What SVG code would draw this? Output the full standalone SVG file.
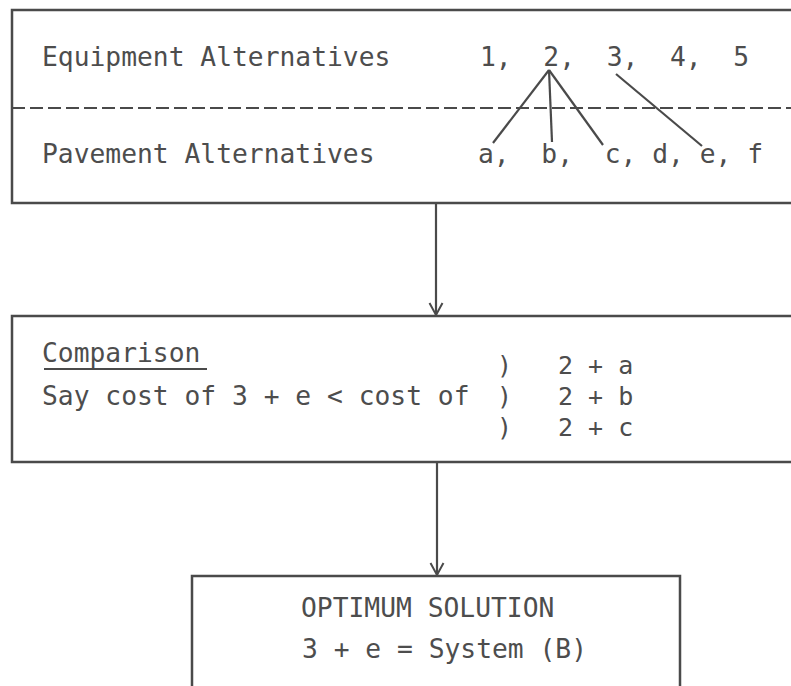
<svg xmlns="http://www.w3.org/2000/svg" width="791" height="686" viewBox="0 0 791 686">
<style>
.box{fill:none;stroke:#4a4a4a;stroke-width:2.5}
.dash{fill:none;stroke:#4a4a4a;stroke-width:2;stroke-dasharray:13 5}
.ln{fill:none;stroke:#4a4a4a;stroke-width:2.2}
.t{font-family:"DejaVu Sans Mono","Liberation Mono",monospace;font-size:26.3px;fill:#4d4d4d}
.r{font-family:"DejaVu Sans Mono","Liberation Mono",monospace;font-size:25px;fill:#4d4d4d}
</style>
<defs>
<marker id="arr" viewBox="0 0 13 14" refX="12" refY="7" markerWidth="13" markerHeight="14" markerUnits="userSpaceOnUse" orient="auto" overflow="visible">
<path d="M0,0.5 L12,7 L0,13.5" fill="none" stroke="#4a4a4a" stroke-width="2"/>
</marker>
</defs>
<rect width="791" height="686" fill="#ffffff"/>
<g id="alternatives">
<path class="box" d="M800,10 H12 V203 H800"/>
<line class="dash" x1="12" y1="108" x2="791" y2="108"/>
<text class="t" x="42" y="66">Equipment Alternatives</text>
<text class="t" x="480" y="66" xml:space="preserve">1,  2,  3,  4,  5</text>
<text class="t" x="42" y="163">Pavement Alternatives</text>
<text class="t" x="478" y="163" xml:space="preserve">a,  b,  c, d, e, f</text>
<line class="ln" x1="549" y1="70" x2="493" y2="143"/>
<line class="ln" x1="549" y1="70" x2="552" y2="142"/>
<line class="ln" x1="549" y1="70" x2="603" y2="145"/>
<line class="ln" x1="616" y1="74" x2="702" y2="146"/>
</g>
<g id="comparison">
<path class="box" d="M800,316 H12 V462 H800"/>
<text class="t" x="42" y="362">Comparison</text>
<line class="ln" x1="44" y1="369" x2="207" y2="369"/>
<text class="t" x="42" y="405">Say cost of 3 + e &lt; cost of</text>
<text class="r" x="497" y="374">)</text>
<text class="r" x="497" y="405">)</text>
<text class="r" x="497" y="436">)</text>
<text class="r" x="558" y="374">2 + a</text>
<text class="r" x="558" y="405">2 + b</text>
<text class="r" x="558" y="436">2 + c</text>
</g>
<g id="optimum">
<path class="box" d="M192,700 V576 H680 V700"/>
<text class="t" x="301" y="617">OPTIMUM SOLUTION</text>
<text class="t" x="302" y="658">3 + e = System (B)</text>
</g>
<g id="connectors">
<line class="ln" x1="436" y1="204" x2="436" y2="315" marker-end="url(#arr)"/>
<line class="ln" x1="437" y1="463" x2="437" y2="575" marker-end="url(#arr)"/>
</g>
</svg>
